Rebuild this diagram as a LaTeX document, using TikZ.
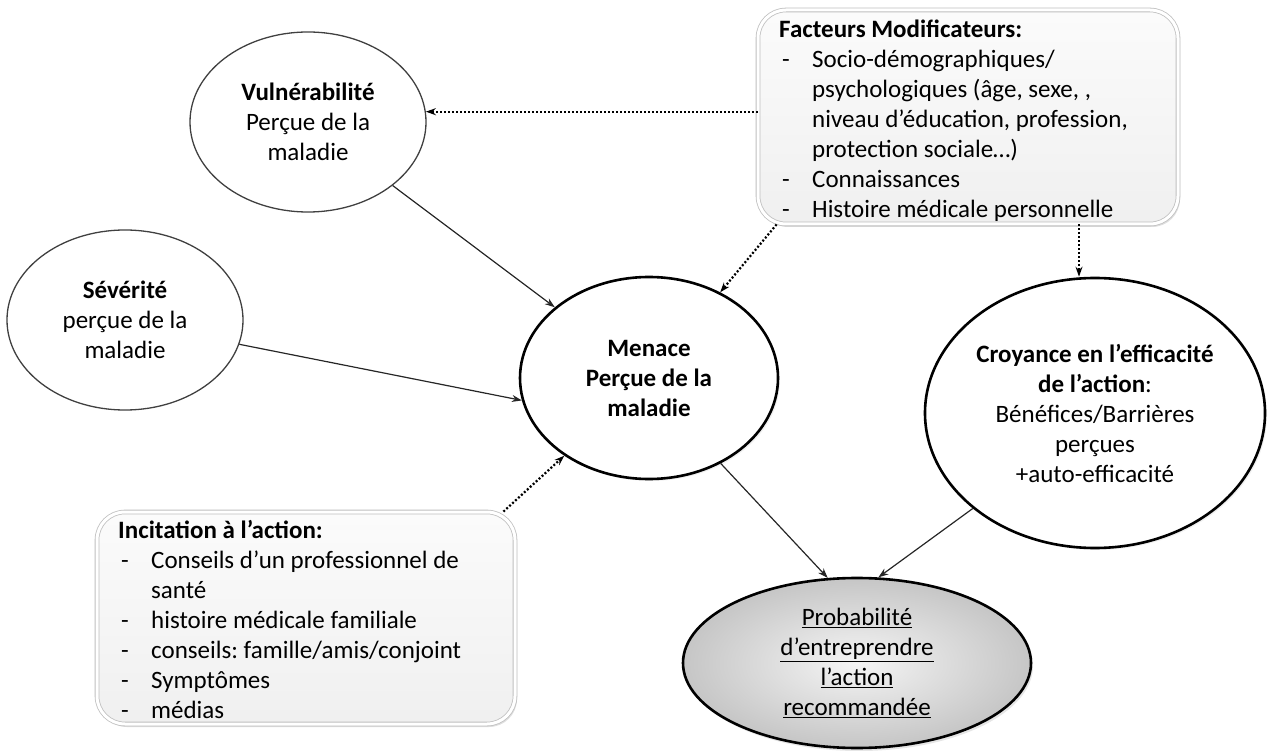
\documentclass[tikz,border=0pt]{standalone}
\usepackage{fontspec}
\setmainfont{Carlito}
\frenchspacing
\usetikzlibrary{arrows.meta,positioning,shapes.geometric,shadows}
\newcommand{\txt}{\fontsize{25}{30}\selectfont}
\newcommand{\puce}{\hspace*{3pt}\makebox[30pt][l]{-}}
\newcommand{\suite}{\hspace*{33pt}}
\tikzset{
	x=1pt, y=-1pt,
	>={Stealth[length=10pt,width=7pt]},
	every node/.style={font=\txt},
	perception/.style={ellipse, draw=black!75, line width=1.3pt, align=center, inner sep=0pt},	
	menace/.style={ellipse, draw, fill=white, line width=2.6pt, align=center, inner sep=0pt, font=\txt\bfseries,
		drop shadow={opacity=0.12, shadow xshift=2pt, shadow yshift=-2pt}},
	probable/.style={ellipse, draw, line width=2.6pt, align=center, inner sep=0pt,
		inner color=gray!8, outer color=gray!45,
		drop shadow={opacity=0.2, shadow xshift=2pt, shadow yshift=-3pt}},
	facteurs/.style={draw=gray!50, line width=0.8pt, double=white, double distance=3pt, rounded corners=28pt,
		top color=gray!3, bottom color=gray!12,
		drop shadow={opacity=0.25, shadow xshift=2pt, shadow yshift=-3pt}},
	liste/.style={align=left, inner sep=0pt, anchor=north west},
	lien/.style={->, black!85, line width=1.2pt}, % solid influence
	pointille/.style={->, line width=2.2pt, dash pattern=on 2pt off 2pt}, % dotted influence
}
\begin{document}
\begin{tikzpicture}
	\useasboundingbox (0,0) rectangle (1283,751);
	
	% boxes
	\node[facteurs, minimum width=420pt, minimum height=214pt] (fm) at (968,117) {};
	\node[liste] (fmtxt) at (779,20) {\textbf{Facteurs Modificateurs:}\\
		\puce Socio-démographiques/\\
		\suite psychologiques (âge, sexe, ,\\
		\suite niveau d’éducation, profession,\\
		\suite protection sociale…)\\
		\puce Connaissances\\
		\puce Histoire médicale personnelle};
	\node[facteurs, minimum width=418pt, minimum height=212pt] (inc) at (306,618) {};
	\node[liste] (inctxt) at (118,520) {\textbf{Incitation à l’action:}\\
		\puce Conseils d’un professionnel de\\
		\suite santé\\
		\puce histoire médicale familiale\\
		\puce conseils: famille/amis/conjoint\\
		\puce Symptômes\\
		\puce médias};
	
	% ellipses
	\node[perception, minimum width=236pt, minimum height=180pt] (vul) at (308,122)
		{\textbf{Vulnérabilité}\\Perçue de la\\maladie};
	\node[perception, minimum width=236pt, minimum height=180pt] (sev) at (125,320)
		{\textbf{Sévérité}\\perçue de la\\maladie};
	\node[menace, minimum width=258pt, minimum height=202pt] (men) at (649,378)
		{Menace\\Perçue de la\\maladie};
	\node[menace, font=\txt, minimum width=340pt, minimum height=270pt] (cro) at (1095,413)
		{\textbf{Croyance en l’efficacité}\\\textbf{de l’action}:\\Bénéfices/Barrières\\perçues\\+auto-efficacité};
	\node[probable, minimum width=348pt, minimum height=170pt] (prob) at (857,663)
		{\underline{Probabilité}\\\underline{d’entreprendre}\\\underline{l’action}\\\underline{recommandée}};
	
	% influences
	\coordinate (c1) at (1079,224);
	\draw[pointille] (fm.west |- vul.5) -- (vul.5);
	\draw[pointille] ([xshift=19pt]fm.south west) -- (men);
	\draw[pointille] (fm.south -| c1) -- (c1 |- cro.north);
	\draw[pointille] ([xshift=-12pt]inc.north east) -- (men);
	\draw[lien] (vul) -- (men);
	\draw[lien] (sev.-12) -- (men.190);
	\draw[lien] (men.-50) -- (prob.109);
	\draw[lien] (cro.218) -- (prob.76);
\end{tikzpicture}
\end{document}
